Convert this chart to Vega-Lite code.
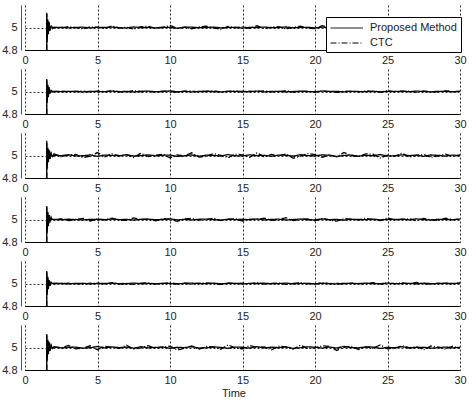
{
"$schema": "https://vega.github.io/schema/vega-lite/v6.json",
"autosize": {"type": "pad"},
"padding": {"left": 1, "top": 5, "right": 5, "bottom": 2},
"title": {"text": "Time", "orient": "bottom", "anchor": "middle", "fontSize": 11, "fontWeight": "normal", "font": "Liberation Sans", "offset": 3, "color": "#222"},
"data": {"values": [
{"p":1,"t":0,"m":0,"c":0},{"p":1,"t":1.48,"m":0,"c":0},{"p":1,"t":1.5,"m":5.13,"c":5.12},{"p":1,"t":1.53,"m":4.87,"c":4.9},{"p":1,"t":1.57,"m":5.07,"c":5.06},{"p":1,"t":1.61,"m":4.94,"c":4.95},{"p":1,"t":1.66,"m":5.04,"c":5.05},{"p":1,"t":1.72,"m":4.98,"c":4.97},{"p":1,"t":1.8,"m":5.01,"c":5.02},{"p":1,"t":1.9,"m":5,"c":4.99},
{"p":1,"t":2,"m":4.999,"c":5.003},{"p":1,"t":2.5,"m":5.002,"c":4.995},{"p":1,"t":3,"m":4.997,"c":5.008},{"p":1,"t":3.5,"m":5.001,"c":4.998},{"p":1,"t":4,"m":5.003,"c":4.988},{"p":1,"t":4.5,"m":4.996,"c":5.006},{"p":1,"t":5,"m":5.002,"c":5.001},{"p":1,"t":5.5,"m":5,"c":4.991},{"p":1,"t":6,"m":5.004,"c":5.014},{"p":1,"t":6.5,"m":4.998,"c":4.996},{"p":1,"t":7,"m":4.997,"c":5.002},{"p":1,"t":7.5,"m":5.005,"c":4.985},{"p":1,"t":8,"m":4.999,"c":5.007},{"p":1,"t":8.5,"m":5.001,"c":5.01},{"p":1,"t":9,"m":4.996,"c":4.994},{"p":1,"t":9.5,"m":5.003,"c":4.999},{"p":1,"t":10,"m":5,"c":5.018},{"p":1,"t":10.5,"m":4.994,"c":4.992},{"p":1,"t":11,"m":5.002,"c":5.004},{"p":1,"t":11.5,"m":5.003,"c":4.989},{"p":1,"t":12,"m":4.998,"c":5.005},{"p":1,"t":12.5,"m":4.999,"c":5.012},{"p":1,"t":13,"m":5.004,"c":4.997},{"p":1,"t":13.5,"m":4.997,"c":4.984},{"p":1,"t":14,"m":5.001,"c":5.009},{"p":1,"t":14.5,"m":5.002,"c":4.998},{"p":1,"t":15,"m":4.995,"c":5.006},{"p":1,"t":15.5,"m":5.001,"c":4.993},{"p":1,"t":16,"m":5,"c":5.015},{"p":1,"t":16.5,"m":5.004,"c":4.99},{"p":1,"t":17,"m":4.998,"c":5.003},{"p":1,"t":17.5,"m":4.999,"c":5.008},{"p":1,"t":18,"m":5.005,"c":4.987},{"p":1,"t":18.5,"m":4.997,"c":5.001},{"p":1,"t":19,"m":5.001,"c":5.011},{"p":1,"t":19.5,"m":5.002,"c":4.995},{"p":1,"t":20,"m":4.996,"c":4.991},{"p":1,"t":20.5,"m":5.003,"c":5.016},{"p":1,"t":21,"m":4.999,"c":4.998},{"p":1,"t":21.5,"m":4.995,"c":5.004},{"p":1,"t":22,"m":5.003,"c":4.986},{"p":1,"t":22.5,"m":5.001,"c":5.007},{"p":1,"t":23,"m":4.998,"c":5.002},{"p":1,"t":23.5,"m":5.004,"c":4.994},{"p":1,"t":24,"m":4.999,"c":5.013},{"p":1,"t":24.5,"m":4.997,"c":4.989},{"p":1,"t":25,"m":5.005,"c":5.005},{"p":1,"t":25.5,"m":4.998,"c":4.999},{"p":1,"t":26,"m":5,"c":5.01},{"p":1,"t":26.5,"m":5.002,"c":4.992},{"p":1,"t":27,"m":4.996,"c":5.017},{"p":1,"t":27.5,"m":5.003,"c":4.996},{"p":1,"t":28,"m":4.999,"c":4.988},{"p":1,"t":28.5,"m":4.997,"c":5.006},{"p":1,"t":29,"m":5.004,"c":5.003},{"p":1,"t":29.5,"m":5,"c":4.993},{"p":1,"t":30,"m":5.001,"c":5.009},
{"p":2,"t":0,"m":0,"c":0},{"p":2,"t":1.48,"m":0,"c":0},{"p":2,"t":1.5,"m":5.11,"c":5.1},{"p":2,"t":1.53,"m":4.9,"c":4.92},{"p":2,"t":1.57,"m":5.06,"c":5.05},{"p":2,"t":1.61,"m":4.95,"c":4.96},{"p":2,"t":1.66,"m":5.03,"c":5.04},{"p":2,"t":1.72,"m":4.98,"c":4.98},{"p":2,"t":1.8,"m":5.01,"c":5.01},{"p":2,"t":1.9,"m":5,"c":4.995},
{"p":2,"t":2,"m":5.001,"c":4.998},{"p":2,"t":2.5,"m":4.999,"c":5.004},{"p":2,"t":3,"m":5.002,"c":4.995},{"p":2,"t":3.5,"m":5,"c":5.001},{"p":2,"t":4,"m":4.997,"c":5.005},{"p":2,"t":4.5,"m":5.002,"c":4.993},{"p":2,"t":5,"m":5,"c":5.003},{"p":2,"t":5.5,"m":4.998,"c":4.999},{"p":2,"t":6,"m":5.004,"c":5.006},{"p":2,"t":6.5,"m":4.999,"c":4.997},{"p":2,"t":7,"m":5.001,"c":4.996},{"p":2,"t":7.5,"m":4.996,"c":5.008},{"p":2,"t":8,"m":5.002,"c":4.998},{"p":2,"t":8.5,"m":5.003,"c":5.002},{"p":2,"t":9,"m":4.998,"c":4.994},{"p":2,"t":9.5,"m":5,"c":5.004},{"p":2,"t":10,"m":5.005,"c":5.001},{"p":2,"t":10.5,"m":4.998,"c":4.991},{"p":2,"t":11,"m":5.001,"c":5.003},{"p":2,"t":11.5,"m":4.997,"c":5.005},{"p":2,"t":12,"m":5.001,"c":4.997},{"p":2,"t":12.5,"m":5.003,"c":4.999},{"p":2,"t":13,"m":4.999,"c":5.007},{"p":2,"t":13.5,"m":4.996,"c":4.995},{"p":2,"t":14,"m":5.002,"c":5.002},{"p":2,"t":14.5,"m":5,"c":5.004},{"p":2,"t":15,"m":5.002,"c":4.993},{"p":2,"t":15.5,"m":4.998,"c":5.002},{"p":2,"t":16,"m":5.004,"c":4.999},{"p":2,"t":16.5,"m":4.997,"c":5.006},{"p":2,"t":17,"m":5.001,"c":4.996},{"p":2,"t":17.5,"m":5.002,"c":4.998},{"p":2,"t":18,"m":4.997,"c":5.008},{"p":2,"t":18.5,"m":5,"c":4.995},{"p":2,"t":19,"m":5.003,"c":5.001},{"p":2,"t":19.5,"m":4.999,"c":5.003},{"p":2,"t":20,"m":4.998,"c":4.994},{"p":2,"t":20.5,"m":5.004,"c":5.005},{"p":2,"t":21,"m":5,"c":4.998},{"p":2,"t":21.5,"m":5.001,"c":4.992},{"p":2,"t":22,"m":4.996,"c":5.004},{"p":2,"t":22.5,"m":5.002,"c":5.002},{"p":2,"t":23,"m":5,"c":4.997},{"p":2,"t":23.5,"m":4.998,"c":5.006},{"p":2,"t":24,"m":5.003,"c":4.999},{"p":2,"t":24.5,"m":4.997,"c":4.995},{"p":2,"t":25,"m":5.001,"c":5.007},{"p":2,"t":25.5,"m":5,"c":4.997},{"p":2,"t":26,"m":5.003,"c":5.001},{"p":2,"t":26.5,"m":4.998,"c":5.004},{"p":2,"t":27,"m":5.004,"c":4.993},{"p":2,"t":27.5,"m":4.999,"c":5.005},{"p":2,"t":28,"m":4.997,"c":4.998},{"p":2,"t":28.5,"m":5.002,"c":4.996},{"p":2,"t":29,"m":5.001,"c":5.006},{"p":2,"t":29.5,"m":4.998,"c":4.999},{"p":2,"t":30,"m":5.002,"c":5.002},
{"p":3,"t":0,"m":0,"c":0},{"p":3,"t":1.48,"m":0,"c":0},{"p":3,"t":1.5,"m":5.13,"c":5.11},{"p":3,"t":1.53,"m":4.88,"c":4.9},{"p":3,"t":1.57,"m":5.07,"c":5.06},{"p":3,"t":1.61,"m":4.94,"c":4.95},{"p":3,"t":1.66,"m":5.04,"c":5.05},{"p":3,"t":1.72,"m":4.97,"c":4.97},{"p":3,"t":1.8,"m":5.02,"c":5.02},{"p":3,"t":1.9,"m":4.99,"c":4.99},
{"p":3,"t":2,"m":5.002,"c":5.014},{"p":3,"t":2.5,"m":4.999,"c":4.989},{"p":3,"t":3,"m":5.006,"c":5.005},{"p":3,"t":3.5,"m":4.996,"c":5.009},{"p":3,"t":4,"m":4.998,"c":4.982},{"p":3,"t":4.5,"m":5.005,"c":4.994},{"p":3,"t":5,"m":4.993,"c":5.026},{"p":3,"t":5.5,"m":5.004,"c":4.988},{"p":3,"t":6,"m":5.001,"c":5.015},{"p":3,"t":6.5,"m":4.997,"c":4.998},{"p":3,"t":7,"m":5.007,"c":5.008},{"p":3,"t":7.5,"m":4.995,"c":4.983},{"p":3,"t":8,"m":4.999,"c":5.02},{"p":3,"t":8.5,"m":5.006,"c":4.991},{"p":3,"t":9,"m":4.997,"c":5.003},{"p":3,"t":9.5,"m":5.002,"c":5.011},{"p":3,"t":10,"m":5.004,"c":4.979},{"p":3,"t":10.5,"m":4.992,"c":5.006},{"p":3,"t":11,"m":4.998,"c":4.997},{"p":3,"t":11.5,"m":5.005,"c":5.024},{"p":3,"t":12,"m":4.994,"c":4.986},{"p":3,"t":12.5,"m":5.003,"c":4.992},{"p":3,"t":13,"m":5.001,"c":5.017},{"p":3,"t":13.5,"m":4.995,"c":5.002},{"p":3,"t":14,"m":5.008,"c":4.98},{"p":3,"t":14.5,"m":4.998,"c":5.012},{"p":3,"t":15,"m":4.996,"c":5.005},{"p":3,"t":15.5,"m":5.006,"c":4.985},{"p":3,"t":16,"m":4.999,"c":5.023},{"p":3,"t":16.5,"m":5.002,"c":4.989},{"p":3,"t":17,"m":4.993,"c":5.009},{"p":3,"t":17.5,"m":5.004,"c":4.997},{"p":3,"t":18,"m":5.002,"c":5.014},{"p":3,"t":18.5,"m":4.995,"c":4.976},{"p":3,"t":19,"m":5.007,"c":4.995},{"p":3,"t":19.5,"m":4.999,"c":5.018},{"p":3,"t":20,"m":4.997,"c":5.008},{"p":3,"t":20.5,"m":5.005,"c":4.983},{"p":3,"t":21,"m":5.003,"c":5.006},{"p":3,"t":21.5,"m":4.991,"c":4.988},{"p":3,"t":22,"m":5.001,"c":5.027},{"p":3,"t":22.5,"m":5.004,"c":4.998},{"p":3,"t":23,"m":4.994,"c":4.991},{"p":3,"t":23.5,"m":5.002,"c":5.015},{"p":3,"t":24,"m":4.998,"c":5.011},{"p":3,"t":24.5,"m":5.008,"c":4.977},{"p":3,"t":25,"m":4.996,"c":5.003},{"p":3,"t":25.5,"m":4.997,"c":4.994},{"p":3,"t":26,"m":5.006,"c":5.021},{"p":3,"t":26.5,"m":4.999,"c":4.986},{"p":3,"t":27,"m":5.003,"c":5.002},{"p":3,"t":27.5,"m":4.993,"c":5.009},{"p":3,"t":28,"m":5.005,"c":4.982},{"p":3,"t":28.5,"m":5.001,"c":4.997},{"p":3,"t":29,"m":4.995,"c":5.012},{"p":3,"t":29.5,"m":5.004,"c":4.992},{"p":3,"t":30,"m":4.998,"c":5.005},
{"p":4,"t":0,"m":0,"c":0},{"p":4,"t":1.48,"m":0,"c":0},{"p":4,"t":1.5,"m":5.12,"c":5.11},{"p":4,"t":1.53,"m":4.88,"c":4.9},{"p":4,"t":1.57,"m":5.07,"c":5.06},{"p":4,"t":1.61,"m":4.94,"c":4.95},{"p":4,"t":1.66,"m":5.04,"c":5.04},{"p":4,"t":1.72,"m":4.98,"c":4.97},{"p":4,"t":1.8,"m":5.01,"c":5.02},{"p":4,"t":1.9,"m":5,"c":4.99},
{"p":4,"t":2,"m":5.001,"c":4.996},{"p":4,"t":2.5,"m":4.998,"c":5.007},{"p":4,"t":3,"m":5.003,"c":4.99},{"p":4,"t":3.5,"m":4.999,"c":5.002},{"p":4,"t":4,"m":4.996,"c":5.009},{"p":4,"t":4.5,"m":5.002,"c":4.987},{"p":4,"t":5,"m":5,"c":5.005},{"p":4,"t":5.5,"m":4.997,"c":4.999},{"p":4,"t":6,"m":5.005,"c":5.011},{"p":4,"t":6.5,"m":4.999,"c":4.994},{"p":4,"t":7,"m":5.001,"c":4.992},{"p":4,"t":7.5,"m":4.995,"c":5.015},{"p":4,"t":8,"m":5.002,"c":4.997},{"p":4,"t":8.5,"m":5.003,"c":5.004},{"p":4,"t":9,"m":4.998,"c":4.988},{"p":4,"t":9.5,"m":5,"c":5.008},{"p":4,"t":10,"m":5.006,"c":5.001},{"p":4,"t":10.5,"m":4.997,"c":4.983},{"p":4,"t":11,"m":5.001,"c":5.006},{"p":4,"t":11.5,"m":4.996,"c":5.01},{"p":4,"t":12,"m":5.002,"c":4.995},{"p":4,"t":12.5,"m":5.004,"c":4.998},{"p":4,"t":13,"m":4.999,"c":5.013},{"p":4,"t":13.5,"m":4.995,"c":4.991},{"p":4,"t":14,"m":5.003,"c":5.003},{"p":4,"t":14.5,"m":4.999,"c":5.007},{"p":4,"t":15,"m":5.002,"c":4.986},{"p":4,"t":15.5,"m":4.998,"c":5.004},{"p":4,"t":16,"m":5.005,"c":4.999},{"p":4,"t":16.5,"m":4.997,"c":5.012},{"p":4,"t":17,"m":5.001,"c":4.993},{"p":4,"t":17.5,"m":5.003,"c":4.997},{"p":4,"t":18,"m":4.996,"c":5.016},{"p":4,"t":18.5,"m":5,"c":4.99},{"p":4,"t":19,"m":5.004,"c":5.002},{"p":4,"t":19.5,"m":4.998,"c":5.006},{"p":4,"t":20,"m":4.997,"c":4.989},{"p":4,"t":20.5,"m":5.005,"c":5.009},{"p":4,"t":21,"m":4.999,"c":4.996},{"p":4,"t":21.5,"m":5.001,"c":4.985},{"p":4,"t":22,"m":4.995,"c":5.008},{"p":4,"t":22.5,"m":5.002,"c":5.003},{"p":4,"t":23,"m":5.001,"c":4.994},{"p":4,"t":23.5,"m":4.998,"c":5.011},{"p":4,"t":24,"m":5.004,"c":4.998},{"p":4,"t":24.5,"m":4.996,"c":4.991},{"p":4,"t":25,"m":5.002,"c":5.014},{"p":4,"t":25.5,"m":5,"c":4.995},{"p":4,"t":26,"m":5.003,"c":5.001},{"p":4,"t":26.5,"m":4.997,"c":5.007},{"p":4,"t":27,"m":5.006,"c":4.987},{"p":4,"t":27.5,"m":4.999,"c":5.01},{"p":4,"t":28,"m":4.996,"c":4.997},{"p":4,"t":28.5,"m":5.002,"c":4.992},{"p":4,"t":29,"m":5.001,"c":5.012},{"p":4,"t":29.5,"m":4.998,"c":4.999},{"p":4,"t":30,"m":5.003,"c":5.004},
{"p":5,"t":0,"m":0,"c":0},{"p":5,"t":1.48,"m":0,"c":0},{"p":5,"t":1.5,"m":5.11,"c":5.1},{"p":5,"t":1.53,"m":4.9,"c":4.92},{"p":5,"t":1.57,"m":5.06,"c":5.05},{"p":5,"t":1.61,"m":4.95,"c":4.96},{"p":5,"t":1.66,"m":5.03,"c":5.03},{"p":5,"t":1.72,"m":4.98,"c":4.98},{"p":5,"t":1.8,"m":5.01,"c":5.01},{"p":5,"t":1.9,"m":5,"c":4.995},
{"p":5,"t":2,"m":4.999,"c":5.002},{"p":5,"t":2.5,"m":5.002,"c":4.997},{"p":5,"t":3,"m":4.997,"c":5.004},{"p":5,"t":3.5,"m":5.001,"c":4.999},{"p":5,"t":4,"m":5.002,"c":4.994},{"p":5,"t":4.5,"m":4.997,"c":5.003},{"p":5,"t":5,"m":5.001,"c":5.001},{"p":5,"t":5.5,"m":5,"c":4.995},{"p":5,"t":6,"m":5.003,"c":5.007},{"p":5,"t":6.5,"m":4.998,"c":4.998},{"p":5,"t":7,"m":4.998,"c":5.001},{"p":5,"t":7.5,"m":5.004,"c":4.992},{"p":5,"t":8,"m":4.999,"c":5.004},{"p":5,"t":8.5,"m":5.001,"c":5.005},{"p":5,"t":9,"m":4.997,"c":4.997},{"p":5,"t":9.5,"m":5.002,"c":4.999},{"p":5,"t":10,"m":5,"c":5.009},{"p":5,"t":10.5,"m":4.996,"c":4.996},{"p":5,"t":11,"m":5.002,"c":5.002},{"p":5,"t":11.5,"m":5.003,"c":4.994},{"p":5,"t":12,"m":4.999,"c":5.003},{"p":5,"t":12.5,"m":4.999,"c":5.006},{"p":5,"t":13,"m":5.003,"c":4.998},{"p":5,"t":13.5,"m":4.998,"c":4.992},{"p":5,"t":14,"m":5.001,"c":5.005},{"p":5,"t":14.5,"m":5.002,"c":4.999},{"p":5,"t":15,"m":4.996,"c":5.003},{"p":5,"t":15.5,"m":5.001,"c":4.996},{"p":5,"t":16,"m":5,"c":5.008},{"p":5,"t":16.5,"m":5.003,"c":4.995},{"p":5,"t":17,"m":4.998,"c":5.002},{"p":5,"t":17.5,"m":4.999,"c":5.004},{"p":5,"t":18,"m":5.004,"c":4.993},{"p":5,"t":18.5,"m":4.997,"c":5.001},{"p":5,"t":19,"m":5.001,"c":5.006},{"p":5,"t":19.5,"m":5.002,"c":4.997},{"p":5,"t":20,"m":4.997,"c":4.995},{"p":5,"t":20.5,"m":5.002,"c":5.008},{"p":5,"t":21,"m":4.999,"c":4.999},{"p":5,"t":21.5,"m":4.996,"c":5.002},{"p":5,"t":22,"m":5.002,"c":4.993},{"p":5,"t":22.5,"m":5.001,"c":5.004},{"p":5,"t":23,"m":4.998,"c":5.001},{"p":5,"t":23.5,"m":5.003,"c":4.997},{"p":5,"t":24,"m":4.999,"c":5.007},{"p":5,"t":24.5,"m":4.998,"c":4.994},{"p":5,"t":25,"m":5.004,"c":5.003},{"p":5,"t":25.5,"m":4.999,"c":4.999},{"p":5,"t":26,"m":5,"c":5.005},{"p":5,"t":26.5,"m":5.002,"c":4.996},{"p":5,"t":27,"m":4.997,"c":5.009},{"p":5,"t":27.5,"m":5.003,"c":4.998},{"p":5,"t":28,"m":4.999,"c":4.994},{"p":5,"t":28.5,"m":4.998,"c":5.003},{"p":5,"t":29,"m":5.003,"c":5.002},{"p":5,"t":29.5,"m":5,"c":4.996},{"p":5,"t":30,"m":5.001,"c":5.005},
{"p":6,"t":0,"m":0,"c":0},{"p":6,"t":1.48,"m":0,"c":0},{"p":6,"t":1.5,"m":5.12,"c":5.11},{"p":6,"t":1.53,"m":4.88,"c":4.9},{"p":6,"t":1.57,"m":5.07,"c":5.06},{"p":6,"t":1.61,"m":4.94,"c":4.95},{"p":6,"t":1.66,"m":5.04,"c":5.05},{"p":6,"t":1.72,"m":4.97,"c":4.97},{"p":6,"t":1.8,"m":5.02,"c":5.02},{"p":6,"t":1.9,"m":4.99,"c":4.99},
{"p":6,"t":2,"m":5.005,"c":5.006},{"p":6,"t":2.5,"m":4.996,"c":4.998},{"p":6,"t":3,"m":5.002,"c":5.018},{"p":6,"t":3.5,"m":5.003,"c":4.988},{"p":6,"t":4,"m":4.994,"c":4.995},{"p":6,"t":4.5,"m":4.998,"c":5.015},{"p":6,"t":5,"m":5.009,"c":4.98},{"p":6,"t":5.5,"m":4.996,"c":5.011},{"p":6,"t":6,"m":5.005,"c":5.002},{"p":6,"t":6.5,"m":4.999,"c":4.992},{"p":6,"t":7,"m":5.003,"c":5.021},{"p":6,"t":7.5,"m":4.994,"c":4.986},{"p":6,"t":8,"m":5.007,"c":4.997},{"p":6,"t":8.5,"m":4.997,"c":5.017},{"p":6,"t":9,"m":5.001,"c":4.991},{"p":6,"t":9.5,"m":5.004,"c":5.005},{"p":6,"t":10,"m":4.993,"c":5.012},{"p":6,"t":10.5,"m":5.002,"c":4.977},{"p":6,"t":11,"m":4.999,"c":4.994},{"p":6,"t":11.5,"m":5.008,"c":5.014},{"p":6,"t":12,"m":4.995,"c":4.983},{"p":6,"t":12.5,"m":4.997,"c":5.009},{"p":6,"t":13,"m":5.006,"c":5.003},{"p":6,"t":13.5,"m":5.001,"c":4.985},{"p":6,"t":14,"m":4.993,"c":5.024},{"p":6,"t":14.5,"m":5.004,"c":4.995},{"p":6,"t":15,"m":5.002,"c":4.989},{"p":6,"t":15.5,"m":4.995,"c":5.018},{"p":6,"t":16,"m":5.008,"c":4.998},{"p":6,"t":16.5,"m":4.996,"c":5.006},{"p":6,"t":17,"m":5.003,"c":4.979},{"p":6,"t":17.5,"m":4.999,"c":5.011},{"p":6,"t":18,"m":5.005,"c":5.005},{"p":6,"t":18.5,"m":4.992,"c":4.986},{"p":6,"t":19,"m":4.998,"c":5.02},{"p":6,"t":19.5,"m":5.006,"c":4.992},{"p":6,"t":20,"m":5.003,"c":4.997},{"p":6,"t":20.5,"m":4.995,"c":5.015},{"p":6,"t":21,"m":5.004,"c":5.009},{"p":6,"t":21.5,"m":4.996,"c":4.974},{"p":6,"t":22,"m":5.009,"c":5.002},{"p":6,"t":22.5,"m":4.999,"c":5.012},{"p":6,"t":23,"m":4.997,"c":4.982},{"p":6,"t":23.5,"m":5.005,"c":5.006},{"p":6,"t":24,"m":5.004,"c":4.995},{"p":6,"t":24.5,"m":4.992,"c":5.023},{"p":6,"t":25,"m":5.001,"c":4.988},{"p":6,"t":25.5,"m":4.998,"c":4.991},{"p":6,"t":26,"m":5.007,"c":5.017},{"p":6,"t":26.5,"m":4.995,"c":4.998},{"p":6,"t":27,"m":5.001,"c":5.008},{"p":6,"t":27.5,"m":5.002,"c":4.98},{"p":6,"t":28,"m":4.994,"c":5.014},{"p":6,"t":28.5,"m":4.999,"c":5.003},{"p":6,"t":29,"m":5.004,"c":4.985},{"p":6,"t":29.5,"m":4.997,"c":5.011},{"p":6,"t":30,"m":5.002,"c":4.994}
]},
"transform": [{"fold": ["m", "c"], "as": ["s", "v"]}],
"facet": {"row": {"field": "p", "type": "ordinal", "header": null}},
"spacing": 4,
"resolve": {"axis": {"x": "independent"}},
"spec": {
  "width": 435,
  "height": 45,
  "mark": {"type": "line", "clip": true, "strokeWidth": 1.3},
  "encoding": {
    "x": {"field": "t", "type": "quantitative", "scale": {"domain": [0, 30], "nice": false}, "axis": {"values": [0, 5, 10, 15, 20, 25, 30], "title": null}},
    "y": {"field": "v", "type": "quantitative", "scale": {"domain": [4.8, 5.2], "zero": false, "nice": false}, "axis": {"values": [4.8, 5], "format": "~g", "title": null}},
    "color": {"field": "s", "type": "nominal", "scale": {"domain": ["m", "c"], "range": ["#000000", "#000000"]},
      "legend": {"orient": "none", "legendX": 301, "legendY": 12, "title": null, "labelExpr": "datum.label == 'm' ? 'Proposed Method' : 'CTC'"}},
    "strokeDash": {"field": "s", "type": "nominal", "scale": {"domain": ["m", "c"], "range": [[1, 0], [6, 2, 1, 2]]},
      "legend": {"orient": "none", "legendX": 301, "legendY": 12, "title": null, "labelExpr": "datum.label == 'm' ? 'Proposed Method' : 'CTC'"}}
  }
},
"config": {
  "view": {"stroke": null},
  "font": "Liberation Sans",
  "axis": {"domainColor": "#555555", "domainWidth": 1, "tickSize": 0, "labelFontSize": 11, "labelColor": "#222222", "labelFont": "Liberation Sans", "gridColor": "#000000", "gridDash": [2, 2], "gridOpacity": 0.8, "gridWidth": 1, "labelPadding": 4, "labelFlush": false, "labelOverlap": false},
  "axisX": {"domainColor": "#000000"},
  "legend": {"fillColor": "#ffffff", "strokeColor": "#000000", "padding": 4, "labelFontSize": 11, "labelColor": "#222222", "labelFont": "Liberation Sans", "symbolType": "M-1,0H4", "symbolSize": 169, "symbolStrokeWidth": 1, "labelOffset": 26, "rowPadding": 3}
}
}
